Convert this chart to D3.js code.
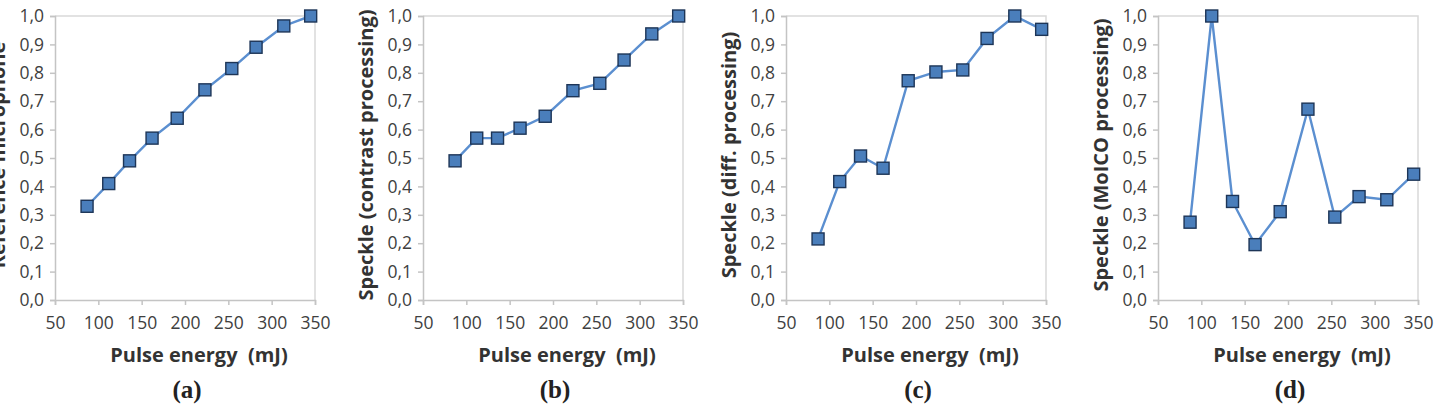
<!DOCTYPE html>
<html>
<head>
<meta charset="utf-8">
<script src="https://cdn.jsdelivr.net/npm/d3@7"></script>
<style>
  html, body { margin: 0; padding: 0; background: #fff; }
  svg { display: block; }
  .tick text { font-family: 'Open Sans', sans-serif; font-size: 17.5px; fill: #404040; }
  .ytitle, .xtitle { font-family: 'Open Sans', sans-serif; font-weight: bold; font-size: 20px; fill: #333; white-space: pre; }
  .letter { font-family: 'Liberation Serif', serif; font-weight: bold; font-size: 25px; fill: #222; }
</style>
</head>
<body>
<svg id="chart" width="1436" height="406"></svg>
<script>
// pulse energies (mJ), same for all four panels
const energy = [87, 112, 136, 162, 191, 223, 254, 282, 314, 345];

// normalised values
const refMic = [0.33, 0.41, 0.49, 0.57, 0.64, 0.74, 0.815, 0.89, 0.965, 1.0];
const speckleContrast = [0.49, 0.57, 0.57, 0.605, 0.647, 0.737, 0.763, 0.845, 0.937, 1.0];
const speckleDiff = [0.215, 0.417, 0.507, 0.464, 0.772, 0.803, 0.81, 0.921, 1.0, 0.953];
const speckleMoico = [0.274, 1.0, 0.347, 0.195, 0.311, 0.672, 0.292, 0.364, 0.353, 0.443];

const yTitles = ['Reference microphone', 'Speckle (contrast processing)', 'Speckle (diff. processing)', 'Speckle (MoICO processing)'];
const letters = ['(a)', '(b)', '(c)', '(d)'];
const xTicks = [50, 100, 150, 200, 250, 300, 350];
const yTicks = [0, 0.1, 0.2, 0.3, 0.4, 0.5, 0.6, 0.7, 0.8, 0.9, 1.0];

const series = [refMic, speckleContrast, speckleDiff, speckleMoico];
const panelLeft = [55, 423, 786, 1158];
const plotW = 260, plotTop = 16, plotBottom = 300;

const svg = d3.select('#chart');
const commaFmt = v => d3.format('.1f')(v).replace('.', ',');

series.forEach((vals, i) => {
  const left = panelLeft[i];
  const x = d3.scaleLinear().domain([50, 350]).range([left, left + plotW]);
  const y = d3.scaleLinear().domain([0, 1]).range([plotBottom, plotTop]);
  const g = svg.append('g');

  // light frame on top / right
  g.append('path')
    .attr('d', `M${x(50)},${y(1)}H${x(350)}V${y(0)}`)
    .attr('fill', 'none')
    .attr('stroke', '#d9d9d9')
    .attr('stroke-width', 1.5);

  const yAxis = g.append('g')
    .attr('transform', `translate(${x(50)},0)`)
    .call(d3.axisLeft(y).tickValues(yTicks).tickFormat(commaFmt).tickSize(5).tickPadding(6));
  const xAxis = g.append('g')
    .attr('transform', `translate(0,${y(0)})`)
    .call(d3.axisBottom(x).tickValues(xTicks).tickFormat(d3.format('d')).tickSize(5).tickPadding(12));
  [yAxis, xAxis].forEach(a => {
    a.select('.domain').attr('stroke', '#c4c4c4').attr('stroke-width', 1.5);
    a.selectAll('.tick line').attr('stroke', '#c4c4c4').attr('stroke-width', 1.5);
  });

  const line = d3.line().x((d, j) => x(energy[j])).y(d => y(d));
  g.append('path')
    .datum(vals)
    .attr('d', line)
    .attr('fill', 'none')
    .attr('stroke', '#5b8fd0')
    .attr('stroke-width', 2.4);

  const sz = 12;
  g.selectAll('rect.pt')
    .data(vals)
    .enter()
    .append('rect')
    .attr('class', 'pt')
    .attr('x', (d, j) => x(energy[j]) - sz / 2)
    .attr('y', d => y(d) - sz / 2)
    .attr('width', sz)
    .attr('height', sz)
    .attr('fill', '#4a7ebb')
    .attr('stroke', '#1d3557')
    .attr('stroke-width', 1.4);

  // titles
  const cx = (x(50) + x(350)) / 2;
  g.append('text')
    .attr('class', 'xtitle')
    .attr('x', cx + 14)
    .attr('y', 362)
    .attr('text-anchor', 'middle')
    .text('Pulse energy  (mJ)');
  g.append('text')
    .attr('class', 'ytitle')
    .attr('transform', `translate(${x(50) - 50},${(plotTop + plotBottom) / 2 - 3}) rotate(-90)`)
    .attr('text-anchor', 'middle')
    .text(yTitles[i]);
  g.append('text')
    .attr('class', 'letter')
    .attr('x', cx + 2)
    .attr('y', 398)
    .attr('text-anchor', 'middle')
    .text(letters[i]);
});
</script>
</body>
</html>
